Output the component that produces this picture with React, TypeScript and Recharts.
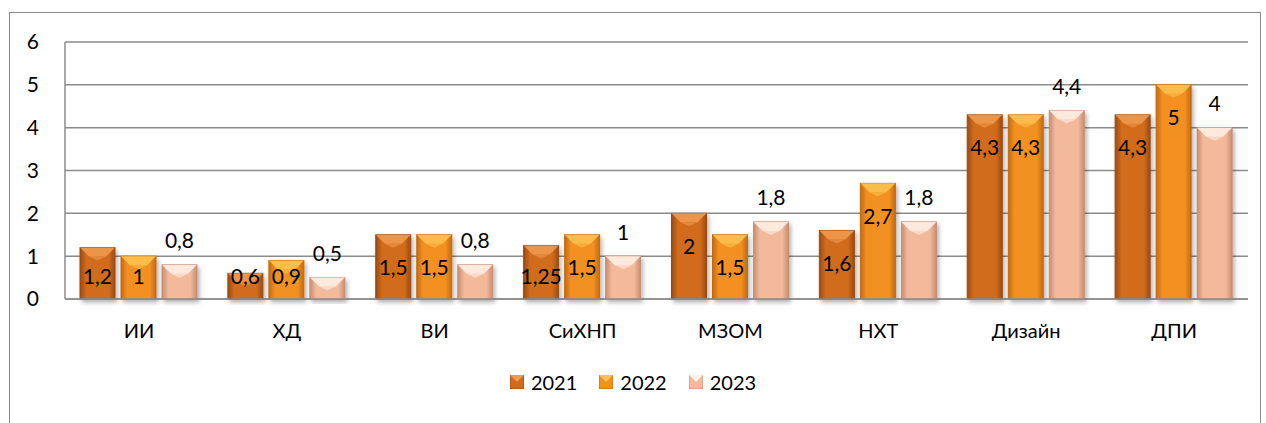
import { BarChart, Bar, XAxis, YAxis, CartesianGrid, Legend, LabelList } from 'recharts';

const categories = ['ИИ', 'ХД', 'ВИ', 'СиХНП', 'МЗОМ', 'НХТ', 'Дизайн', 'ДПИ'];
const values2021 = [1.2, 0.6, 1.5, 1.25, 2, 1.6, 4.3, 4.3];
const values2022 = [1, 0.9, 1.5, 1.5, 1.5, 2.7, 4.3, 5];
const values2023 = [0.8, 0.5, 0.8, 1, 1.8, 1.8, 4.4, 4];
const yTicks = [0, 1, 2, 3, 4, 5, 6];

const FONT = 'Lato, "Noto Sans", sans-serif';

// colours for each series: edge, base, bevel highlight
const palette = {
  y2021: { id: 'g2021', edge: '#9c4a10', base: '#d06c1e', top: '#ee9a4c', name: '2021' },
  y2022: { id: 'g2022', edge: '#c46a10', base: '#f39022', top: '#fcc24c', name: '2022' },
  y2023: { id: 'g2023', edge: '#c98d72', base: '#f2b99a', top: '#fff0e4', name: '2023' },
};
type Pal = (typeof palette)['y2021'];

const chartData = categories.map((name, i) => ({
  name,
  y2021: values2021[i],
  y2022: values2022[i],
  y2023: values2023[i],
}));

const fmt = (v: number) => String(v).replace('.', ',');

const BevelBar = (pal: Pal) => (props: any) => {
  const { x, y, width, height } = props;
  if (!height || height <= 0) return null;
  const b = Math.min(9, height / 2);
  return (
    <g filter="url(#shadow)">
      <rect x={x} y={y} width={width} height={height} fill={`url(#${pal.id})`} stroke={pal.edge} strokeWidth={1} />
      <polygon
        points={`${x},${y} ${x + width},${y} ${x + width - b},${y + b} ${x + b},${y + b}`}
        fill={pal.top}
        opacity={0.9}
      />
      <polygon points={`${x + b},${y + b} ${x + width - b},${y + b} ${x + width / 2},${y + b + 4}`} fill={pal.top} opacity={0.6} />
    </g>
  );
};

const InsideLabel = (props: any) => {
  const { x, y, width, height, value } = props;
  const cy = Math.min(y + 32, y + height - 24);
  return (
    <text x={x + width / 2} y={cy} textAnchor="middle" dominantBaseline="central" fontSize={21} fill="#000" fontFamily={FONT}>
      {fmt(value)}
    </text>
  );
};

const TopLabel = (props: any) => {
  const { x, y, width, value } = props;
  return (
    <text x={x + width / 2} y={y - 25} textAnchor="middle" dominantBaseline="central" fontSize={21} fill="#000" fontFamily={FONT}>
      {fmt(value)}
    </text>
  );
};

const LegendContent = () => (
  <div style={{ display: 'flex', justifyContent: 'center', fontFamily: FONT, fontSize: 20, color: '#000' }}>
    {[palette.y2021, palette.y2022, palette.y2023].map((p) => (
      <div key={p.id} style={{ display: 'flex', alignItems: 'center', margin: '0 11px' }}>
        <svg width={14} height={14} style={{ marginRight: 7 }}>
          <rect x={0} y={0} width={14} height={14} fill={p.base} stroke={p.edge} />
          <polygon points="0,0 14,0 7,7" fill={p.top} />
        </svg>
        <span>{p.name}</span>
      </div>
    ))}
  </div>
);

export default function App() {
  return (
    <div style={{ position: 'absolute', left: 0, top: 0, width: 1266, height: 423, background: '#fff', overflow: 'hidden' }}>
      <div
        style={{
          position: 'absolute',
          left: 9,
          top: 12,
          width: 1252,
          height: 500,
          border: '1.5px solid #8a8a8a',
          boxSizing: 'border-box',
        }}
      />
      <div style={{ position: 'absolute', left: 0, top: 0 }}>
        <BarChart
          width={1266}
          height={423}
          data={chartData}
          margin={{ top: 42, right: 18, bottom: 70, left: 0 }}
          barSize={35}
          barGap={6}
        >
          <defs>
            {[palette.y2021, palette.y2022, palette.y2023].map((p) => (
              <linearGradient key={p.id} id={p.id} x1="0" y1="0" x2="1" y2="0">
                <stop offset="0%" stopColor={p.edge} />
                <stop offset="18%" stopColor={p.base} />
                <stop offset="82%" stopColor={p.base} />
                <stop offset="100%" stopColor={p.edge} />
              </linearGradient>
            ))}
            <filter id="shadow" x="-20%" y="-10%" width="150%" height="130%">
              <feDropShadow dx={2} dy={3} stdDeviation={2} floodColor="#000" floodOpacity={0.3} />
            </filter>
          </defs>
          <CartesianGrid vertical={false} stroke="#8c8c8c" strokeWidth={1.5} />
          <XAxis
            dataKey="name"
            axisLine={{ stroke: '#8c8c8c', strokeWidth: 1.5 }}
            tickLine={false}
            tickSize={0}
            tickMargin={25}
            tick={{ fontSize: 20, fill: '#000', fontFamily: FONT }}
          />
          <YAxis
            domain={[0, 6]}
            ticks={yTicks}
            width={65}
            axisLine={{ stroke: '#8c8c8c', strokeWidth: 1.5 }}
            tickLine={false}
            tickSize={0}
            tickMargin={26}
            tick={{ fontSize: 21, fill: '#000', fontFamily: FONT }}
          />
          <Legend content={<LegendContent />} wrapperStyle={{ top: 370, left: 0, width: 1266 }} />
          <Bar dataKey="y2021" name="2021" shape={BevelBar(palette.y2021)} isAnimationActive={false}>
            <LabelList dataKey="y2021" content={InsideLabel} />
          </Bar>
          <Bar dataKey="y2022" name="2022" shape={BevelBar(palette.y2022)} isAnimationActive={false}>
            <LabelList dataKey="y2022" content={InsideLabel} />
          </Bar>
          <Bar dataKey="y2023" name="2023" shape={BevelBar(palette.y2023)} isAnimationActive={false}>
            <LabelList dataKey="y2023" content={TopLabel} />
          </Bar>
        </BarChart>
      </div>
    </div>
  );
}
